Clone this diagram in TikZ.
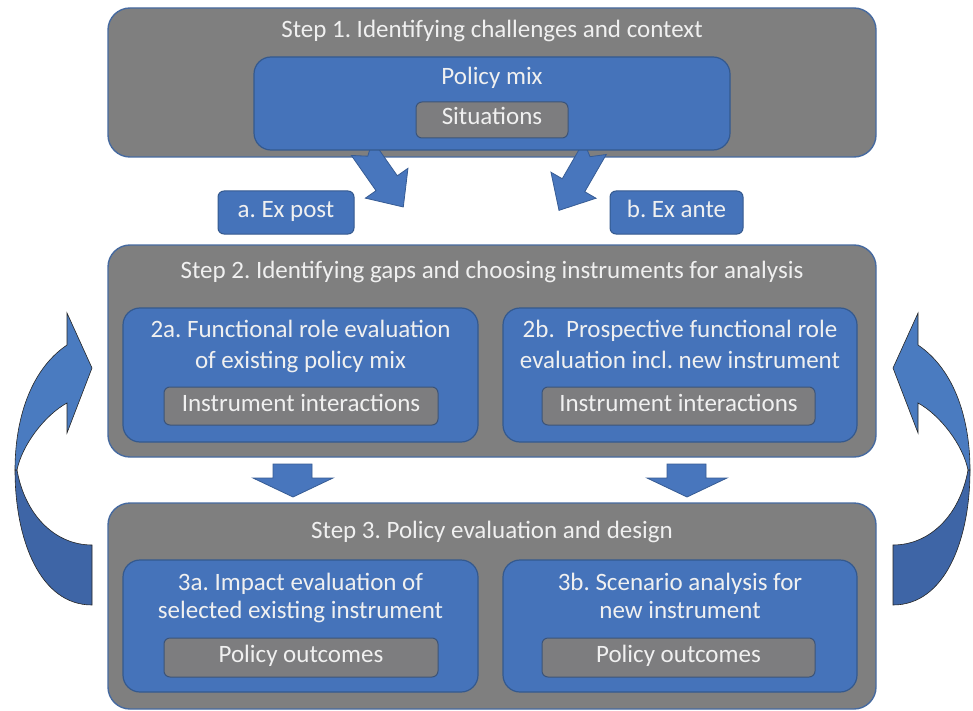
\documentclass[tikz,border=0pt]{standalone}
\usepackage{fontspec}
\setmainfont{Carlito}
\frenchspacing
\usetikzlibrary{calc}
\definecolor{gfill}{RGB}{127,127,127}
\definecolor{stepline}{RGB}{70,106,160}
\definecolor{bfill}{RGB}{69,115,186}
\definecolor{bline}{RGB}{52,89,142}
\definecolor{ifill}{RGB}{125,125,127}
\definecolor{iline}{RGB}{60,84,120}
\definecolor{txtc}{RGB}{240,240,240}
\definecolor{arfill}{RGB}{72,118,189}
\definecolor{arline}{RGB}{55,92,148}
\definecolor{calight}{RGB}{74,123,192}
\definecolor{cadark}{RGB}{62,101,166}
\tikzset{
  stepbox/.style={draw=stepline, line width=1.4pt, fill=gfill, rounded corners=22pt, inner sep=0pt},
  bluebox/.style={draw=bline, line width=1.2pt, fill=bfill, rounded corners=17pt, inner sep=0pt},
  innerbox/.style={draw=iline, line width=1pt, fill=ifill, rounded corners=6pt, inner sep=0pt},
  tagbox/.style={draw=bline, line width=1pt, fill=bfill, rounded corners=6pt, inner sep=0pt},
  txt/.style={text=txtc, font=\fontsize{25}{30}\selectfont, inner sep=0pt, text height=1.0em, text depth=0em, anchor=center},
  blockarrow/.style={fill=arfill, draw=arline, line width=0.8pt, line join=miter},
  curvedark/.style={fill=cadark, draw=black!85, line width=0.6pt},
  curvelight/.style={fill=calight, draw=black!85, line width=0.6pt}
}
\newcommand\mycurvedarrow{%
  \path[curvedark] (92,545) -- (92,605) .. controls (40,605) and (15,540) .. (15,470)
     -- (17,470) .. controls (25,515) and (55,545) .. (92,545) -- cycle;
  \path[curvelight] (15,470) .. controls (15,420) and (30,370) .. (67,345)
     -- (67,313) -- (92,368) -- (67,433) -- (67,403)
     .. controls (45,415) and (22,445) .. (17,470) -- cycle;
}
\begin{document}
\begin{tikzpicture}[x=1pt,y=1pt,yscale=-1]
\useasboundingbox (0,0) rectangle (973,711);

% Step 1
\node[stepbox, minimum width=768pt, minimum height=149pt] (s1) at (492,82.5) {};
\node[txt] (s1t) at (492,33) {Step 1. Identifying challenges and context};

% notched arrows (behind policy mix box)
\begin{scope}[shift={(362,148)}, rotate=55]
  \draw[blockarrow] (0,-13) -- (43,-13) -- (43,-26) -- (72,0) -- (43,26) -- (43,13) -- (0,13) -- (10,0) -- cycle;
\end{scope}
\begin{scope}[shift={(595,148)}, rotate=120]
  \draw[blockarrow] (0,-13) -- (43,-13) -- (43,-26) -- (72,0) -- (43,26) -- (43,13) -- (0,13) -- (10,0) -- cycle;
\end{scope}

\node[bluebox, minimum width=476pt, minimum height=93pt] (pm) at (492,103.5) {};
\node[txt] (pmt) at (492,80) {Policy mix};
\node[innerbox, minimum width=152pt, minimum height=36pt] (sit) at (492,120) {};
\node[txt] (sitt) at (492,120) {Situations};

% tags
\node[tagbox, minimum width=136pt, minimum height=43pt] (expost) at (286,212.5) {};
\node[txt] (expostt) at (286,212.5) {a. Ex post};
\node[tagbox, minimum width=133pt, minimum height=43pt] (exante) at (676.5,212.5) {};
\node[txt] (exantet) at (676.5,212.5) {b. Ex ante};

% Step 2
\node[stepbox, minimum width=768pt, minimum height=212pt] (s2) at (492,351) {};
\node[txt] (s2t) at (492,273) {Step 2. Identifying gaps and choosing instruments for analysis};
\node[bluebox, minimum width=355pt, minimum height=134pt] (b2a) at (300.5,375) {};
\node[txt] (b2a1) at (300.5,332) {2a. Functional role evaluation};
\node[txt] (b2a2) at (300.5,363) {of existing policy mix};
\node[innerbox, minimum width=274pt, minimum height=38pt] (i2a) at (301,406) {};
\node[txt] (i2at) at (301,406) {Instrument interactions};
\node[bluebox, minimum width=354pt, minimum height=134pt] (b2b) at (680,375) {};
\node[txt] (b2b1) at (680,332) {2b.\ \ Prospective functional role};
\node[txt] (b2b2) at (680,363) {evaluation incl. new instrument};
\node[innerbox, minimum width=273pt, minimum height=38pt] (i2b) at (678.5,406) {};
\node[txt] (i2bt) at (678.5,406) {Instrument interactions};

% down arrows
\draw[blockarrow] (273,464) -- (312,464) -- (312,478) -- (333,478) -- (293,497) -- (253,478) -- (273,478) -- cycle;
\draw[blockarrow] (667,464) -- (706,464) -- (706,478) -- (727,478) -- (687,497) -- (647,478) -- (667,478) -- cycle;

% Step 3
\node[stepbox, minimum width=768pt, minimum height=206pt] (s3) at (492,606) {};
\node[txt] (s3t) at (492,533) {Step 3. Policy evaluation and design};
\node[bluebox, minimum width=355pt, minimum height=132pt] (b3a) at (300.5,626) {};
\node[txt] (b3a1) at (300.5,585) {3a. Impact evaluation of};
\node[txt] (b3a2) at (300.5,613) {selected existing instrument};
\node[innerbox, minimum width=274pt, minimum height=39pt] (i3a) at (301,657.5) {};
\node[txt] (i3at) at (301,657.5) {Policy outcomes};
\node[bluebox, minimum width=354pt, minimum height=132pt] (b3b) at (680,626) {};
\node[txt] (b3b1) at (680,585) {3b. Scenario analysis for};
\node[txt] (b3b2) at (680,613) {new instrument};
\node[innerbox, minimum width=273pt, minimum height=39pt] (i3b) at (678.5,657.5) {};
\node[txt] (i3bt) at (678.5,657.5) {Policy outcomes};

% curved arrows
\mycurvedarrow
\begin{scope}[shift={(985,0)}, xscale=-1]
  \mycurvedarrow
\end{scope}
\end{tikzpicture}
\end{document}
